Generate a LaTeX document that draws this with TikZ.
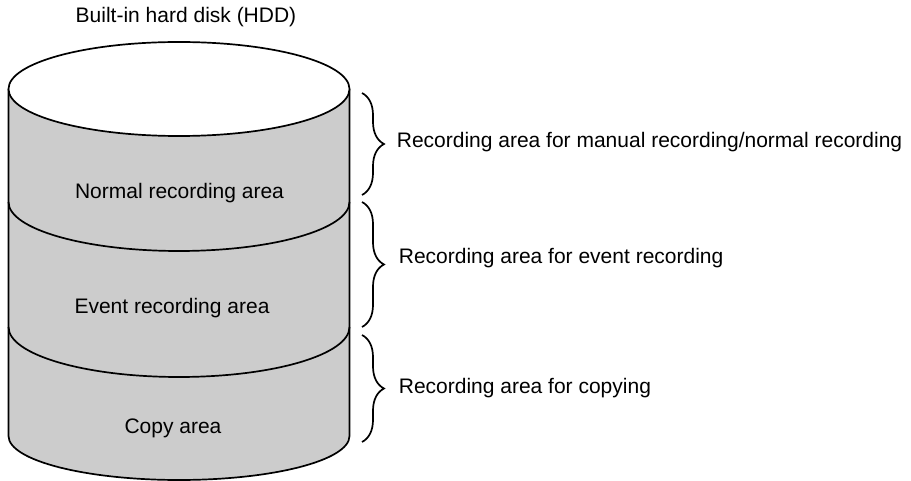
\documentclass[tikz,border=0pt]{standalone}
\usepackage{fontspec}
\setmainfont{Liberation Sans}
\usetikzlibrary{decorations.pathreplacing}

\begin{document}
\begin{tikzpicture}[x=1pt,y=1pt,line width=1.7pt,
    every node/.style={font=\fontsize{21}{25}\selectfont,inner sep=0pt},
    area/.style={fill=black!20},
    bracket/.style={decorate,decoration={brace,amplitude=22pt}},
    label/.style={anchor=west}]
    \useasboundingbox (0,0) rectangle (911,-481);
    % disk body
    \fill[area] (8.5,-89) -- (8.5,-436) arc (180:360:170.5 and 44) -- (349.5,-89) -- cycle;
    \draw (8.5,-89) -- (8.5,-436) arc (180:360:170.5 and 44) -- (349.5,-89);
    \draw[fill=white] (179,-89) ellipse (170.5 and 47);
    \draw (8.5,-202) arc (180:360:170.5 and 49);
    \draw (8.5,-327) arc (180:360:170.5 and 50);
    \node (hdd) at (186,-17) {Built-in hard disk (HDD)};
    \node (normal) at (179.5,-193) {Normal recording area};
    \node (event) at (172,-308) {Event recording area};
    \node (copy) at (173,-428) {Copy area};
    % braces
    \foreach \i/\t/\b in {1/93/195,2/202/327,3/335/442}{
    \coordinate (top\i) at (362,-\t);
    \coordinate (bot\i) at (362,-\b);
    \draw[bracket] (top\i) -- (bot\i);
    }
    \node[label] (manual) at (396,-142) {Recording area for manual recording/normal recording};
    \node[label] (eventrec) at (398,-258) {Recording area for event recording};
    \node[label] (copying) at (398,-388) {Recording area for copying};
\end{tikzpicture}
\end{document}
